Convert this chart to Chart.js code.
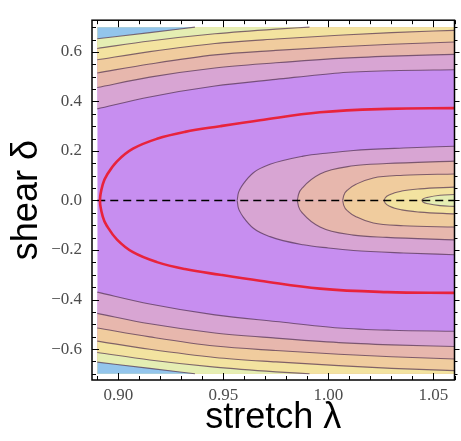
<!DOCTYPE html>
<html>
<head>
<meta charset="utf-8">
<script src="https://cdn.jsdelivr.net/npm/chart.js@4.4.1/dist/chart.umd.min.js"></script>
<style>
html,body{margin:0;padding:0;background:#fff;}
#wrap{width:461px;height:441px;position:relative;}
</style>
</head>
<body>
<div id="wrap"><canvas id="c" width="461" height="441"></canvas></div>
<script>
// ---- data ----
const LAMBDA_RANGE = [0.89, 1.06];     // stretch λ extent of the contour plot
const DELTA_RANGE  = [-0.7, 0.7];      // shear δ extent of the contour plot
const X_TICKS = [0.90, 0.95, 1.00, 1.05];
const X_MINOR = [0.89,0.91,0.92,0.93,0.94,0.96,0.97,0.98,0.99,1.01,1.02,1.03,1.04,1.06];
const Y_TICKS = [-0.6, -0.4, -0.2, 0.0, 0.2, 0.4, 0.6];
const Y_MINOR = [-0.7,-0.65,-0.55,-0.5,-0.45,-0.35,-0.3,-0.25,-0.15,-0.1,-0.05,0.05,0.1,0.15,0.25,0.3,0.35,0.45,0.5,0.55,0.65,0.7];

// band colours from lowest (purple) to highest (blue)
const BAND_COLORS = ['#c78ef0', '#d8a5d3', '#e7b7ad', '#f0cc9e', '#f3e3a0', '#e5eeb3', '#93c5ec'];

// contour lines in the upper half (λ, δ)
const upperL1 = [[0.89,0.370],[0.915,0.418],[0.946,0.462],[0.975,0.489],[1.005,0.515],[1.03,0.524],[1.06,0.528]];
const upperL2 = [[0.89,0.456],[0.915,0.498],[0.946,0.535],[0.975,0.556],[1.005,0.574],[1.03,0.583],[1.06,0.590]];
const upperL3 = [[0.89,0.515],[0.915,0.551],[0.946,0.588],[0.975,0.606],[1.005,0.621],[1.03,0.631],[1.06,0.640]];
const upperL4 = [[0.89,0.568],[0.915,0.601],[0.946,0.634],[0.975,0.652],[1.005,0.667],[1.03,0.678],[1.06,0.687]];
const upperL5 = [[0.89,0.614],[0.915,0.644],[0.946,0.673],[0.975,0.692],[0.991,0.700]];
const upperL6 = [[0.89,0.653],[0.915,0.678],[0.9365,0.700]];
// contour lines in the lower half (λ, δ)
const lowerL1 = [[0.89,-0.370],[0.915,-0.418],[0.946,-0.462],[0.975,-0.489],[1.005,-0.515],[1.03,-0.524],[1.06,-0.528]];
const lowerL2 = [[0.89,-0.456],[0.915,-0.498],[0.946,-0.535],[0.975,-0.556],[1.005,-0.574],[1.03,-0.583],[1.06,-0.590]];
const lowerL3 = [[0.89,-0.515],[0.915,-0.551],[0.946,-0.588],[0.975,-0.606],[1.005,-0.621],[1.03,-0.631],[1.06,-0.640]];
const lowerL4 = [[0.89,-0.568],[0.915,-0.601],[0.946,-0.634],[0.975,-0.652],[1.005,-0.667],[1.03,-0.678],[1.06,-0.687]];
const lowerL5 = [[0.89,-0.614],[0.915,-0.644],[0.946,-0.673],[0.975,-0.692],[0.991,-0.700]];
const lowerL6 = [[0.89,-0.653],[0.915,-0.678],[0.9365,-0.700]];

// closed contours around (1.06, 0), upper and lower halves (λ increasing)
const ring1Upper = [[0.9566,0],[0.9570,0.025],[0.9579,0.045],[0.9595,0.067],[0.9643,0.112],[0.9722,0.146],[0.988,0.179],[1.000,0.192],[1.0119,0.202],[1.0357,0.212],[1.06,0.219]];
const ring1Lower = [[0.9566,0],[0.9570,-0.025],[0.9579,-0.045],[0.9595,-0.067],[0.9643,-0.112],[0.9722,-0.146],[0.988,-0.179],[1.000,-0.192],[1.0119,-0.202],[1.0357,-0.212],[1.06,-0.219]];
const ring2Upper = [[0.9852,0],[0.9858,0.025],[0.988,0.054],[0.996,0.107],[1.0119,0.140],[1.0277,0.149],[1.06,0.159]];
const ring2Lower = [[0.9852,0],[0.9858,-0.025],[0.988,-0.054],[0.996,-0.107],[1.0119,-0.140],[1.0277,-0.149],[1.06,-0.159]];
const ring3Upper = [[1.0068,0],[1.0073,0.020],[1.0095,0.045],[1.0135,0.067],[1.0214,0.091],[1.0357,0.102],[1.06,0.107]];
const ring3Lower = [[1.0068,0],[1.0073,-0.020],[1.0095,-0.045],[1.0135,-0.067],[1.0214,-0.091],[1.0357,-0.102],[1.06,-0.107]];
const ring4Upper = [[1.0265,0],[1.0270,0.010],[1.0294,0.024],[1.0349,0.038],[1.0436,0.047],[1.06,0.054]];
const ring4Lower = [[1.0265,0],[1.0270,-0.010],[1.0294,-0.024],[1.0349,-0.038],[1.0436,-0.047],[1.06,-0.054]];
const ring5Upper = [[1.0444,0],[1.0450,0.006],[1.0475,0.013],[1.0531,0.021],[1.06,0.024]];
const ring5Lower = [[1.0444,0],[1.0450,-0.006],[1.0475,-0.013],[1.0531,-0.021],[1.06,-0.024]];

// red curve
const redCurve = [[1.06,0.373],[1.028,0.370],[0.996,0.356],[0.9674,0.324],[0.9484,0.300],[0.9317,0.277],[0.9184,0.249],[0.907,0.209],[0.8994,0.158],[0.8946,0.103],[0.8927,0.067],[0.8913,0],
                  [0.8927,-0.067],[0.8946,-0.103],[0.8994,-0.158],[0.907,-0.209],[0.9184,-0.249],[0.9317,-0.277],[0.9484,-0.300],[0.9674,-0.324],[0.996,-0.356],[1.028,-0.370],[1.06,-0.373]];
// dashed line at δ = 0
const zeroLine = [[0.89,0],[1.06,0]];

// ---- build datasets (painter order: first = bottom) ----
const LINE_COLOR = 'rgba(80,48,80,0.7)';
const toXY = arr => arr.map(p => ({x: p[0], y: p[1]}));
const layers = [];
layers.push({data: toXY([[LAMBDA_RANGE[0], DELTA_RANGE[0]],[LAMBDA_RANGE[1], DELTA_RANGE[0]]]),
             fill: {value: DELTA_RANGE[1]}, backgroundColor: BAND_COLORS[0], borderWidth: 0});
const uppers = [upperL1, upperL2, upperL3, upperL4, upperL5, upperL6];
const lowers = [lowerL1, lowerL2, lowerL3, lowerL4, lowerL5, lowerL6];
const lineStyle = {borderColor: LINE_COLOR, borderWidth: 1.1, cubicInterpolationMode: 'monotone'};
uppers.forEach((c, i) => layers.push(Object.assign({data: toXY(c), fill: {value: DELTA_RANGE[1]}, backgroundColor: BAND_COLORS[i+1]}, lineStyle)));
lowers.forEach((c, i) => layers.push(Object.assign({data: toXY(c), fill: {value: DELTA_RANGE[0]}, backgroundColor: BAND_COLORS[i+1]}, lineStyle)));
[[ring1Upper, ring1Lower], [ring2Upper, ring2Lower], [ring3Upper, ring3Lower], [ring4Upper, ring4Lower], [ring5Upper, ring5Lower]]
  .forEach((pair, i) => pair.forEach(c => layers.push(Object.assign({data: toXY(c), fill: {value: 0}, backgroundColor: BAND_COLORS[i+1]}, lineStyle))));
layers.push({data: toXY(zeroLine), fill: false, borderColor: '#000', borderWidth: 1.6, borderDash: [8, 5]});
layers.push({data: toXY(redCurve), fill: false, borderColor: '#e8233c', borderWidth: 2.6, tension: 0.4});

const N = layers.length;
const datasets = layers.map((d, i) => Object.assign({showLine: true, pointRadius: 0, pointHoverRadius: 0, order: N - i}, d));

// frame with inward ticks
const framePlugin = {
  id: 'frame',
  afterDraw(chart) {
    const {ctx, chartArea: a, scales: {x, y}} = chart;
    ctx.save();
    ctx.strokeStyle = '#000';
    ctx.lineWidth = 1;
    const tick = (x1, y1, x2, y2) => { ctx.beginPath(); ctx.moveTo(x1, y1); ctx.lineTo(x2, y2); ctx.stroke(); };
    const MAJ = 7, MIN = 4;
    X_TICKS.forEach(v => { const px = Math.round(x.getPixelForValue(v)) + 0.5;
      tick(px, a.bottom, px, a.bottom - MAJ); tick(px, a.top, px, a.top + MAJ); });
    X_MINOR.forEach(v => { const px = Math.round(x.getPixelForValue(v)) + 0.5;
      tick(px, a.bottom, px, a.bottom - MIN); tick(px, a.top, px, a.top + MIN); });
    Y_TICKS.forEach(v => { const py = Math.round(y.getPixelForValue(v)) + 0.5;
      tick(a.left, py, a.left + MAJ, py); tick(a.right, py, a.right + 5, py); });
    Y_MINOR.forEach(v => { const py = Math.round(y.getPixelForValue(v)) + 0.5;
      tick(a.left, py, a.left + MIN, py); tick(a.right, py, a.right + 3, py); });
    ctx.lineWidth = 1.5;
    ctx.strokeRect(a.left, a.top, a.right - a.left, a.bottom - a.top);
    ctx.restore();
  }
};

const tickFont = {family: "'Liberation Serif', 'Times New Roman', serif", size: 17};
const titleFont = {family: "'Liberation Sans', Arial, sans-serif", size: 36, lineHeight: 1};

new Chart(document.getElementById('c'), {
  type: 'scatter',
  data: {datasets},
  options: {
    responsive: false,
    animation: false,
    devicePixelRatio: 1,
    layout: {padding: {top: 12, right: 6.5, left: 0, bottom: 0}},
    plugins: {legend: {display: false}, tooltip: {enabled: false}},
    scales: {
      x: {
        type: 'linear', min: 0.8875, max: 1.06,
        afterBuildTicks: s => { s.ticks = X_TICKS.map(v => ({value: v})); },
        afterFit: s => { s.height = 61; },
        grid: {display: false, drawTicks: false},
        border: {display: false},
        ticks: {font: tickFont, color: '#4d4d4d', padding: 5, maxRotation: 0,
                callback: v => Number(v).toFixed(2)},
        title: {display: true, text: 'stretch λ', font: titleFont, color: '#000', padding: {top: 0, bottom: 5}}
      },
      y: {
        type: 'linear', min: -0.725, max: 0.728,
        afterBuildTicks: s => { s.ticks = Y_TICKS.map(v => ({value: v})); },
        afterFit: s => { s.width = 92; },
        grid: {display: false, drawTicks: false},
        border: {display: false},
        ticks: {font: tickFont, color: '#4d4d4d', padding: 10,
                callback: v => { const n = Number(v); return (n < -1e-9 ? '\u2212' : '') + Math.abs(n).toFixed(1); }},
        title: {display: true, text: 'shear δ', font: titleFont, color: '#000', padding: {top: 9, bottom: 0}}
      }
    }
  },
  plugins: [framePlugin]
});
</script>
</body>
</html>
